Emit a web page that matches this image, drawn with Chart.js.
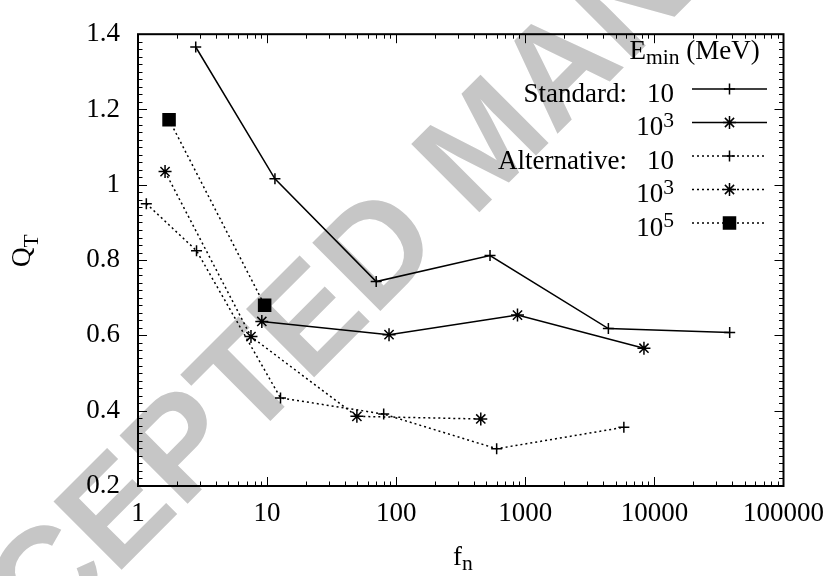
<!DOCTYPE html>
<html><head><meta charset="utf-8">
<script src="https://cdn.jsdelivr.net/npm/chart.js@4.4.1/dist/chart.umd.min.js"></script>
<style>html,body{margin:0;padding:0;background:#fff}canvas{display:block}</style>
</head><body>
<canvas id="c" width="836" height="576"></canvas>
<script>
// ---- data ----
const xTickValues = [1, 10, 100, 1000, 10000, 100000];
const xTickLabels = ['1', '10', '100', '1000', '10000', '100000'];
const yTickValues = [0.2, 0.4, 0.6, 0.8, 1.0, 1.2, 1.4];
const yTickLabels = ['0.2', '0.4', '0.6', '0.8', '1', '1.2', '1.4'];

const stdE1X = [2.8, 11.5, 70, 533, 4400, 38300];
const stdE1Y = [1.366, 1.016, 0.743, 0.812, 0.618, 0.608];
const stdE3X = [9.1, 88, 870, 8300];
const stdE3Y = [0.637, 0.602, 0.654, 0.566];
const altE1X = [1.16, 2.84, 12.7, 80, 600, 5800];
const altE1Y = [0.95, 0.825, 0.434, 0.391, 0.299, 0.356];
const altE3X = [1.62, 7.5, 49.6, 452];
const altE3Y = [1.035, 0.597, 0.385, 0.378];
const altE5X = [1.74, 9.57];
const altE5Y = [1.173, 0.68];

const legendGroup = ['Standard:', '', 'Alternative:', '', ''];
const legendBase = ['10', '10', '10', '10', '10'];
const legendSup = ['', '3', '', '3', '5'];
const legendTitle = ['E', 'min', ' (MeV)'];
const xTitle = ['f', 'n'];
const yTitle = ['Q', 'T'];
const watermarkText = 'ACCEPTED MANUSCRIPT';

// ---- styles ----
const SERIF = '"Liberation Serif", "Times New Roman", serif';
const FS = 27, SFS = 21.6;
const DOT = [2, 3];
const styles = [
  { pointStyle: 'cross', radius: 5.5, dash: [] },
  { pointStyle: 'star', radius: 6.5, dash: [] },
  { pointStyle: 'cross', radius: 5.5, dash: DOT },
  { pointStyle: 'star', radius: 6.5, dash: DOT },
  { pointStyle: 'rect', radius: 8.5, dash: DOT }
];
const series = [[stdE1X, stdE1Y], [stdE3X, stdE3Y], [altE1X, altE1Y], [altE3X, altE3Y], [altE5X, altE5Y]];

const datasets = series.map(([xs, ys], i) => ({
  data: xs.map((x, j) => ({ x: x, y: ys[j] })),
  showLine: true,
  borderColor: '#000',
  backgroundColor: '#000',
  borderWidth: 1.5,
  borderDash: styles[i].dash,
  pointStyle: styles[i].pointStyle,
  pointRadius: styles[i].radius,
  pointBorderWidth: 1.5,
  pointBackgroundColor: '#000',
  pointBorderColor: '#000',
  tension: 0
}));

const bgPlugin = {
  id: 'bg',
  beforeDraw(chart) {
    const ctx = chart.ctx;
    ctx.save();
    ctx.fillStyle = '#fff';
    ctx.fillRect(0, 0, chart.width, chart.height);
    // watermark
    const fs = 140;
    ctx.font = 'bold ' + fs + 'px "Liberation Sans", Arial, sans-serif';
    ctx.fillStyle = '#c6c6c6';
    ctx.translate(305, 315);
    ctx.rotate(-45 * Math.PI / 180);
    const pre = ctx.measureText(watermarkText.slice(0, 7)).width;
    const e = ctx.measureText(watermarkText.charAt(6)).width;
    ctx.textBaseline = 'alphabetic';
    ctx.textAlign = 'left';
    ctx.fillText(watermarkText, -(pre - e / 2), 0.36 * fs);
    ctx.restore();
  }
};

function drawMarker(ctx, style, x, y) {
  ctx.save();
  ctx.setLineDash([]);
  ctx.strokeStyle = '#000';
  ctx.fillStyle = '#000';
  ctx.lineWidth = 1.5;
  Chart.helpers.drawPoint(ctx, { pointStyle: style.pointStyle, radius: style.radius, rotation: 0, borderWidth: 1.5 }, x, y);
  ctx.restore();
}

const framePlugin = {
  id: 'frame',
  afterDatasetsDraw(chart) {
    const ctx = chart.ctx;
    const a = chart.chartArea;
    const xs = chart.scales.x, ys = chart.scales.y;
    ctx.save();
    ctx.strokeStyle = '#000';
    ctx.lineWidth = 1;
    ctx.beginPath();
    for (let d = 1; d < 100000; d *= 10) {
      for (let m = 1; m <= 9; m++) {
        const v = d * m;
        const px = Math.round(xs.getPixelForValue(v)) + 0.5;
        const len = m === 1 ? 9 : 4.5;
        ctx.moveTo(px, a.bottom); ctx.lineTo(px, a.bottom - len);
        ctx.moveTo(px, a.top); ctx.lineTo(px, a.top + len);
      }
    }
    for (let k = 0; k <= 60; k++) {
      const v = 0.2 + k * 0.02;
      const py = Math.round(ys.getPixelForValue(v)) + 0.5;
      const len = k % 10 === 0 ? 9 : 4.5;
      ctx.moveTo(a.left, py); ctx.lineTo(a.left + len, py);
      ctx.moveTo(a.right, py); ctx.lineTo(a.right - len, py);
    }
    ctx.stroke();
    ctx.lineWidth = 2;
    ctx.strokeRect(a.left, a.top, a.right - a.left, a.bottom - a.top);

    // legend
    ctx.fillStyle = '#000';
    ctx.textBaseline = 'alphabetic';
    let tx = 629.5;
    ctx.font = FS + 'px ' + SERIF;
    ctx.textAlign = 'left';
    ctx.fillText(legendTitle[0], tx, 59);
    tx += ctx.measureText(legendTitle[0]).width;
    ctx.font = SFS + 'px ' + SERIF;
    ctx.fillText(legendTitle[1], tx, 64);
    tx += ctx.measureText(legendTitle[1]).width;
    ctx.font = FS + 'px ' + SERIF;
    ctx.fillText(legendTitle[2], tx, 59);

    const rowY0 = 89, rowStep = 33.5;
    for (let i = 0; i < legendBase.length; i++) {
      const ly = rowY0 + i * rowStep;
      const by = ly + 12.5;
      ctx.fillStyle = '#000';
      ctx.textAlign = 'right';
      ctx.font = FS + 'px ' + SERIF;
      if (legendGroup[i]) ctx.fillText(legendGroup[i], 627, by);
      let rx = 674;
      if (legendSup[i]) {
        ctx.font = SFS + 'px ' + SERIF;
        ctx.fillText(legendSup[i], rx, by - 8.5);
        rx -= ctx.measureText(legendSup[i]).width;
        ctx.font = FS + 'px ' + SERIF;
      }
      ctx.fillText(legendBase[i], rx, by);
      ctx.save();
      ctx.lineWidth = 1.5;
      ctx.setLineDash(styles[i].dash);
      ctx.beginPath();
      ctx.moveTo(692, ly); ctx.lineTo(767, ly);
      ctx.stroke();
      ctx.restore();
      drawMarker(ctx, styles[i], 729.5, ly);
    }

    // axis titles
    ctx.textAlign = 'left';
    ctx.font = FS + 'px ' + SERIF;
    ctx.fillText(xTitle[0], 453, 565);
    const fw = ctx.measureText(xTitle[0]).width;
    ctx.font = SFS + 'px ' + SERIF;
    ctx.fillText(xTitle[1], 453 + fw, 570);

    ctx.save();
    ctx.translate(30, 267);
    ctx.rotate(-Math.PI / 2);
    ctx.font = FS + 'px ' + SERIF;
    ctx.fillText(yTitle[0], 0, 0);
    const qw = ctx.measureText(yTitle[0]).width;
    ctx.font = SFS + 'px ' + SERIF;
    ctx.fillText(yTitle[1], qw, 7.5);
    ctx.restore();
    ctx.restore();
  }
};

new Chart(document.getElementById('c'), {
  type: 'scatter',
  data: { datasets: datasets },
  plugins: [bgPlugin, framePlugin],
  options: {
    responsive: false,
    animation: false,
    devicePixelRatio: 1,
    clip: false,
    layout: { padding: { top: 15, right: 47, left: 0, bottom: 0 } },
    plugins: { legend: { display: false }, tooltip: { enabled: false } },
    scales: {
      x: {
        type: 'logarithmic', min: 1, max: 100000,
        grid: { display: false, drawTicks: false },
        border: { display: false },
        ticks: {
          color: '#000', font: { family: SERIF, size: FS }, padding: 12,
          autoSkip: false, maxRotation: 0, minRotation: 0,
          callback: (v, i) => xTickLabels[i]
        },
        afterBuildTicks: s => { s.ticks = xTickValues.map(v => ({ value: v })); },
        afterFit: s => { s.height = 90; }
      },
      y: {
        type: 'linear', min: 0.2, max: 1.4,
        grid: { display: false, drawTicks: false },
        border: { display: false },
        ticks: {
          color: '#000', font: { family: SERIF, size: FS }, padding: 18,
          callback: (v, i) => yTickLabels[i]
        },
        afterBuildTicks: s => { s.ticks = yTickValues.map(v => ({ value: v })); },
        afterFit: s => { s.width = 138; }
      }
    }
  }
});
</script>
</body></html>
